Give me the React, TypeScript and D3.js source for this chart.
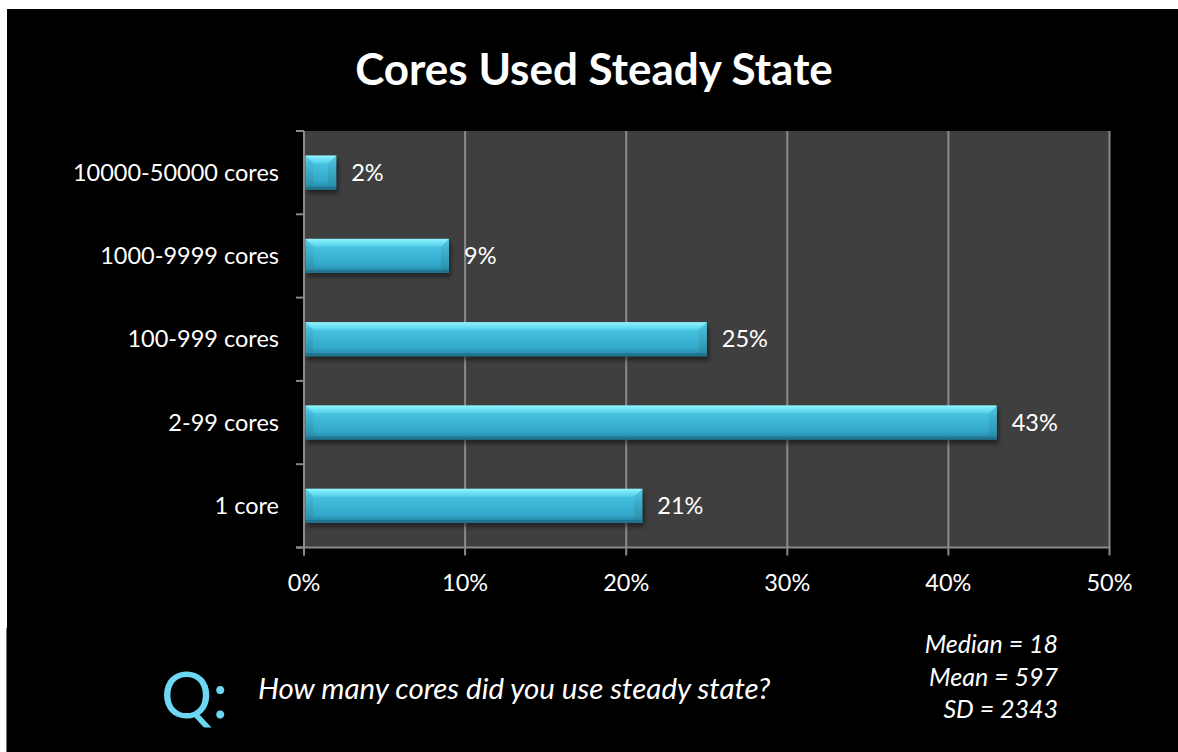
import React from "react";
import * as d3 from "d3";

const categories = ["10000-50000 cores", "1000-9999 cores", "100-999 cores", "2-99 cores", "1 core"];
const values = [2, 9, 25, 43, 21];
const xTicks = [0, 10, 20, 30, 40, 50];
const title = "Cores Used Steady State";
const question = "How many cores did you use steady state?";
const stats = ["Median = 18", "Mean = 597", "SD = 2343"];

const W = 1178;
const H = 752;
const plot = { left: 304, right: 1109.5, top: 131, bottom: 547.5 };
const FONT = "Lato, 'Open Sans', sans-serif";

export default function App() {
  const x = d3.scaleLinear().domain([0, 50]).range([plot.left, plot.right]);
  const y = d3.scaleBand<string>().domain(categories).range([plot.top, plot.bottom]).paddingInner(0.59).paddingOuter(0.295);
  const yb = d3.scaleBand<string>().domain(categories).range([plot.top, plot.bottom]);
  const bounds = d3.range(categories.length + 1).map((i) => plot.top + (i * (plot.bottom - plot.top)) / categories.length);
  const bw = y.bandwidth();

  return (
    <svg width={W} height={H} style={{ position: "absolute", left: 0, top: 0 }} xmlns="http://www.w3.org/2000/svg">
      <defs>
        <linearGradient id="barGrad" x1="0" y1="0" x2="0" y2="1">
          <stop offset="0" stopColor="#86f2fd" />
          <stop offset="0.1" stopColor="#66def4" />
          <stop offset="0.25" stopColor="#45c0de" />
          <stop offset="0.75" stopColor="#33a8ca" />
          <stop offset="1" stopColor="#23809f" />
        </linearGradient>
        <linearGradient id="topBevel" x1="0" y1="0" x2="0" y2="1">
          <stop offset="0" stopColor="#9cf8ff" />
          <stop offset="1" stopColor="#58d4ee" />
        </linearGradient>
        <linearGradient id="endBevel" x1="0" y1="0" x2="0" y2="1">
          <stop offset="0" stopColor="#4cc4e0" />
          <stop offset="1" stopColor="#26859f" />
        </linearGradient>
        <filter id="shadow" x="-10%" y="-30%" width="120%" height="180%">
          <feGaussianBlur stdDeviation="2" />
        </filter>
      </defs>
      <rect x={0} y={0} width={W} height={H} fill="#ffffff" />
      <rect x={7} y={9} width={W - 7} height={H - 9} fill="#000000" />
      <line x1={6.5} x2={6.5} y1={628} y2={H} stroke="#777" strokeWidth={1} />

      <text x={594} y={85} textAnchor="middle" fill="#ffffff" fontFamily={FONT} fontWeight={700} fontSize={44}>
        {title}
      </text>

      {/* plot area */}
      <rect x={plot.left} y={plot.top} width={plot.right - plot.left} height={plot.bottom - plot.top} fill="#3f3f3f" />

      {/* grid lines */}
      {xTicks.slice(1).map((t) => (
        <line key={"g" + t} x1={x(t)} x2={x(t)} y1={plot.top} y2={plot.bottom} stroke="#8a8a8a" strokeWidth={2} />
      ))}

      {/* bars */}
      {categories.map((c, i) => {
        const x0 = x(0) + 1.5;
        const x1 = x(values[i]);
        const y0 = y(c)!;
        const y1 = y0 + bw;
        const b = Math.min(8, (x1 - x0) / 3);
        return (
          <g key={c}>
            <rect x={x0 + 2} y={y0 + 4} width={x1 - x0} height={bw} fill="#000" opacity={0.45} filter="url(#shadow)" />
            <rect x={x0} y={y0} width={x1 - x0} height={bw} fill="url(#barGrad)" />
            <polygon points={`${x0},${y0} ${x1},${y0} ${x1 - b},${y0 + b} ${x0 + b},${y0 + b}`} fill="url(#topBevel)" opacity={0.55} />
            <polygon points={`${x0},${y0} ${x0 + b},${y0 + b} ${x0 + b},${y1 - 3} ${x0},${y1}`} fill="url(#endBevel)" opacity={0.7} />
            <polygon points={`${x1},${y0} ${x1 - b},${y0 + b} ${x1 - b},${y1 - 3} ${x1},${y1}`} fill="url(#endBevel)" opacity={0.8} />
            <rect x={x0} y={y1 - 3} width={x1 - x0} height={3} fill="#1f6f88" opacity={0.8} />
            <text x={x1 + 15} y={yb(c)! + yb.bandwidth() / 2 + 8} fill="#ffffff" fontFamily={FONT} fontSize={23.5}>
              {values[i]}%
            </text>
          </g>
        );
      })}

      {/* axes */}
      <line x1={plot.left} x2={plot.left} y1={plot.top} y2={plot.bottom + 8} stroke="#8a8a8a" strokeWidth={2} />
      <line x1={plot.left - 8} x2={plot.right + 1} y1={plot.bottom} y2={plot.bottom} stroke="#8a8a8a" strokeWidth={2} />
      {bounds.map((b, i) => (
        <line key={"yt" + i} x1={plot.left - 8} x2={plot.left} y1={b} y2={b} stroke="#8a8a8a" strokeWidth={2} />
      ))}
      {xTicks.map((t) => (
        <line key={"xt" + t} x1={x(t)} x2={x(t)} y1={plot.bottom} y2={plot.bottom + 8} stroke="#8a8a8a" strokeWidth={2} />
      ))}

      {categories.map((c) => (
        <text key={"l" + c} x={279} y={yb(c)! + yb.bandwidth() / 2 + 8} textAnchor="end" fill="#ffffff" fontFamily={FONT} fontSize={23.5}>
          {c}
        </text>
      ))}
      {xTicks.map((t) => (
        <text key={"xl" + t} x={x(t)} y={591} textAnchor="middle" fill="#ffffff" fontFamily={FONT} fontSize={23.5}>
          {t}%
        </text>
      ))}

      {/* footer */}
      <text x={161} y={718} fill="#6dd6f3" fontFamily={FONT} fontSize={64}>
        Q:
      </text>
      <text x={258} y={699} fill="#ffffff" fontFamily={FONT} fontStyle="italic" fontSize={29.5}>
        {question}
      </text>
      {stats.map((s, i) => (
        <text key={s} x={1058} y={653 + i * 32.5} textAnchor="end" fill="#ffffff" fontFamily={FONT} fontStyle="italic" fontSize={25}>
          {s}
        </text>
      ))}
    </svg>
  );
}
